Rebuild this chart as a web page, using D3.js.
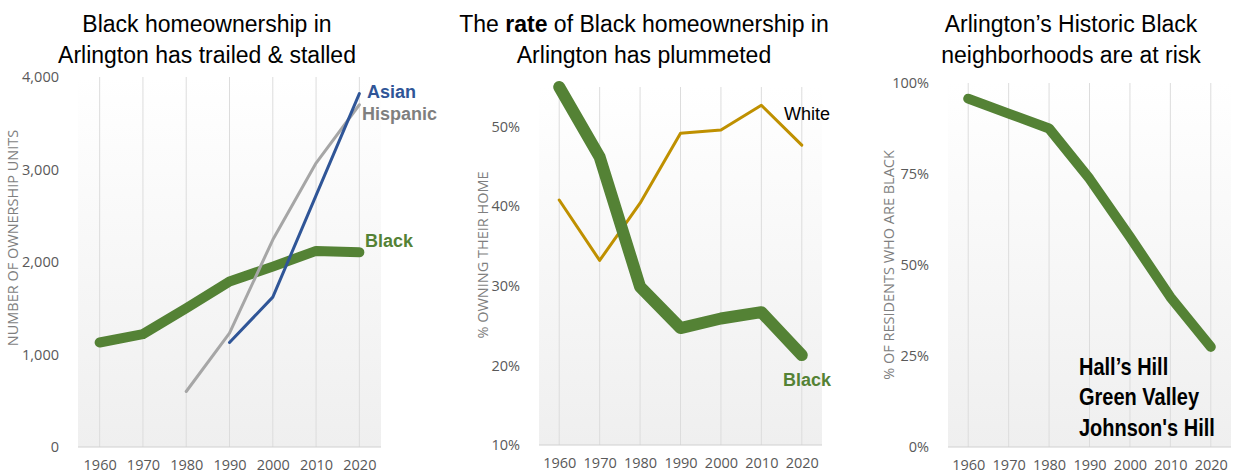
<!DOCTYPE html>
<html><head><meta charset="utf-8">
<script src="https://cdn.jsdelivr.net/npm/d3@7"></script>
<style>
body{margin:0;background:#fff;}
svg{display:block;}
</style></head>
<body>
<svg id="c" width="1233" height="473"></svg>
<script>
const years = ["1960","1970","1980","1990","2000","2010","2020"];
// Panel 1: number of ownership units
const unitTicks = [0,1000,2000,3000,4000];
const unitsBlack    = [1130,1220,1500,1790,1950,2120,2105];
const unitsHispanic = [null,null,600,1230,2240,3070,3700];
const unitsAsian    = [null,null,null,1130,1620,2720,3820];
// Panel 2: rate of homeownership
const rateTicks = [0.1,0.2,0.3,0.4,0.5];
const rateBlack = [0.550,0.462,0.299,0.247,0.259,0.267,0.213];
const rateWhite = [0.408,0.332,0.404,0.492,0.496,0.527,0.477];
// Panel 3: % residents who are Black
const shareTicks = [0,0.25,0.5,0.75,1];
const shareBlack = [0.957,0.916,0.875,0.737,0.577,0.412,0.275];
const neighborhoods = ["Hall\u2019s Hill","Green Valley","Johnson's Hill"];

const GREEN="#548235", BLUE="#2F5597", GRAY="#A6A6A6", GOLD="#BF9000";
const svg = d3.select("#c");
const defs = svg.append("defs");
const grad = defs.append("linearGradient").attr("id","bg").attr("x1",0).attr("y1",0).attr("x2",0).attr("y2",1);
grad.append("stop").attr("offset","0%").attr("stop-color","#ffffff");
grad.append("stop").attr("offset","100%").attr("stop-color","#efefef");

function panel(o){
  const g = svg.append("g");
  const x = d3.scalePoint().domain(years).range([o.x0,o.x1]).padding(0.5);
  const y = d3.scaleLinear().domain(o.domain).range([o.yb,o.yt]);
  g.append("rect").attr("x",o.x0).attr("y",o.yt).attr("width",o.x1-o.x0).attr("height",o.yb-o.yt).attr("fill","url(#bg)");
  g.selectAll(".grid").data(years).join("line")
    .attr("x1",d=>x(d)).attr("x2",d=>x(d)).attr("y1",o.yt).attr("y2",o.yb)
    .attr("stroke","#dcdcdc").attr("stroke-width",1);
  g.append("line").attr("x1",o.x0).attr("x2",o.x1).attr("y1",o.yb).attr("y2",o.yb).attr("stroke","#d0d0d0");
  // y axis
  const ya = g.append("g").attr("transform",`translate(${o.x0-16},0)`)
    .call(d3.axisLeft(y).tickValues(o.ticks).tickFormat(o.fmt).tickSize(0));
  ya.select(".domain").remove();
  ya.selectAll("text").attr("fill","#595959").style("font-family","'Open Sans'").style("font-size","14.5px");
  // x axis
  const xa = g.append("g").attr("transform",`translate(0,${o.yb+10})`)
    .call(d3.axisBottom(x).tickSize(0));
  xa.select(".domain").remove();
  xa.selectAll("text").attr("fill","#595959").style("font-family","'Open Sans'").style("font-size","14.5px");
  // axis title
  g.append("text").attr("transform",`translate(${o.tx},${o.ty}) rotate(-90)`)
    .attr("text-anchor","middle").attr("dominant-baseline","central")
    .attr("fill","#7f7f7f").style("font-family","'Open Sans'").style("font-size","14.5px").text(o.ytitle);
  // title
  const t = g.append("text").attr("text-anchor","middle").attr("fill","#000")
    .style("font-family","'Liberation Sans',Arial,sans-serif").style("font-size","23px");
  o.title.forEach((line,i)=>{
    const ts = t.append("tspan").attr("x",o.cx).attr("y",32+i*31);
    line.forEach(seg=>ts.append("tspan").attr("font-weight",seg.b?"bold":"normal").text(seg.t));
  });
  o.series.forEach(s=>{
    const line = d3.line().defined(d=>d!=null).x((d,i)=>x(years[i])).y(d=>y(d));
    g.append("path").datum(s.v).attr("d",line).attr("fill","none")
      .attr("stroke",s.c).attr("stroke-width",s.w).attr("stroke-linecap","round").attr("stroke-linejoin","round");
  });
  return {g,x,y};
}

const lab = (g,x,y,txt,c,b,fs,sy)=>g.append("text")
  .attr("transform",`translate(${x},${y}) scale(1,${sy||1.05})`).attr("dominant-baseline","central")
  .attr("fill",c).attr("font-weight",b?"bold":"normal")
  .style("font-family","'Liberation Sans',Arial,sans-serif").style("font-size",(fs||18)+"px").text(txt);

const p1 = panel({x0:78,x1:381,yt:77,yb:447,domain:[0,4000],ticks:unitTicks,fmt:d3.format(","),
  tx:12,ty:238,ytitle:"NUMBER OF OWNERSHIP UNITS",cx:207,
  title:[[{t:"Black homeownership in"}],[{t:"Arlington has trailed & stalled"}]],
  series:[{v:unitsBlack,c:GREEN,w:10},{v:unitsHispanic,c:GRAY,w:3},{v:unitsAsian,c:BLUE,w:3}]});
lab(p1.g,367,91,"Asian",BLUE,true);
lab(p1.g,362,113,"Hispanic","#7f7f7f",true);
lab(p1.g,365,240,"Black",GREEN,true);

const p2 = panel({x0:539,x1:822,yt:87,yb:445,domain:[0.1,0.55],ticks:rateTicks,fmt:d3.format(".0%"),
  tx:482,ty:255,ytitle:"% OWNING THEIR HOME",cx:644,
  title:[[{t:"The "},{t:"rate",b:true},{t:" of Black homeownership in"}],[{t:"Arlington has plummeted"}]],
  series:[{v:rateWhite,c:GOLD,w:3},{v:rateBlack,c:GREEN,w:12}]});
lab(p2.g,784,113,"White","#000",false);
lab(p2.g,783,379,"Black",GREEN,true);

const p3 = panel({x0:948,x1:1231,yt:83,yb:447,domain:[0,1],ticks:shareTicks,fmt:d3.format(".0%"),
  tx:888,ty:265,ytitle:"% OF RESIDENTS WHO ARE BLACK",cx:1071,
  title:[[{t:"Arlington\u2019s Historic Black"}],[{t:"neighborhoods are at risk"}]],
  series:[{v:shareBlack,c:GREEN,w:10}]});
neighborhoods.forEach((n,i)=>lab(p3.g,1079,367+i*30.3,n,"#000",true,20,1.18));
</script>
</body></html>
